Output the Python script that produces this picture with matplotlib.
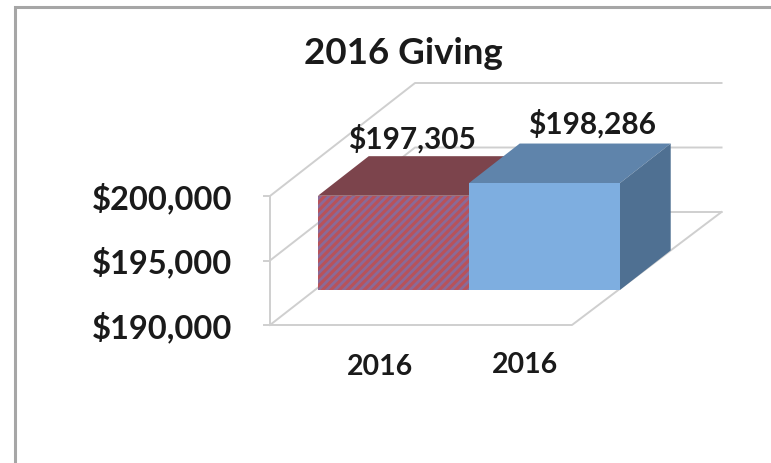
import matplotlib
matplotlib.use("Agg")
import matplotlib.pyplot as plt
from matplotlib.patches import Polygon

plt.rcParams["font.family"] = ["Lato", "DejaVu Sans"]
plt.rcParams["hatch.linewidth"] = 2.0

title = "2016 Giving"
categories = ["2016", "2016"]
values = [197305, 198286]
value_labels = ["$197,305", "$198,286"]
tick_values = [190000, 195000, 200000]
tick_labels = ["$190,000", "$195,000", "$200,000"]

# oblique projection, floor corner is (category 0, 190000, depth 0)
def project(x, v, d=0.0):
    return (270 + 151 * x + 145 * d, 326 - (v - 190000) * 0.0129 - 113 * d)

fig = plt.figure(figsize=(7.71, 4.64), dpi=100)
ax = fig.add_axes([0, 0, 1, 1])
ax.set_xlim(0, 771)
ax.set_ylim(464, 0)
ax.axis("off")

# outer chart border
ax.plot([15, 15, 771], [464, 8, 8], color="#a6a6a6", lw=2.2, solid_joinstyle="miter")

grid = "#cfcfcf"
n = len(categories)
text_col = "#1a1a1a"
# floor and walls
for v, lab in zip(tick_values, tick_labels):
    xs, ys = zip(project(0, v, 0), project(0, v, 1), project(n + 0.03, v, 1))
    ax.plot(xs, ys, color=grid, lw=1.4, zorder=1)
    x0, y0 = project(0, v, 0)
    ax.plot([x0 - 6, x0], [y0, y0], color=grid, lw=1.4, zorder=1)
    ax.text(x0 - 38, y0 + 1, lab, ha="right", va="center",
            fontsize=23.5, fontweight="bold", color=text_col)
xs, ys = zip(project(0, 190000, 0), project(0, 200000, 0))
ax.plot(xs, ys, color=grid, lw=1.4, zorder=1)
xs, ys = zip(project(0, 190000, 0), project(n, 190000, 0), project(n + 0.03, 190000, 1))
ax.plot(xs, ys, color=grid, lw=1.4, zorder=1)

# bars
d0, d1 = 0.31, 0.66
shift = 0.02
styles = [
    dict(front="#b8525a", hatch_col="#8a6a98", top="#7c444c", side="#7c444c"),
    dict(front="#7eaee0", hatch_col=None, top="#5f84ab", side="#4f7092"),
]
for i, v in enumerate(values):
    s = styles[i]
    base = 190000
    x0, x1 = i + shift, i + 1 + shift
    ax.add_patch(Polygon([project(x0, v, d0), project(x1, v, d0), project(x1, v, d1), project(x0, v, d1)],
                         fc=s["top"], ec="none", zorder=3 + i))
    ax.add_patch(Polygon([project(x1, base, d0), project(x1, v, d0), project(x1, v, d1), project(x1, base, d1)],
                         fc=s["side"], ec="none", zorder=3 + i))
    front = [project(x0, base, d0), project(x1, base, d0), project(x1, v, d0), project(x0, v, d0)]
    ax.add_patch(Polygon(front, fc=s["front"], ec="none", zorder=3 + i))
    if s["hatch_col"]:
        ax.add_patch(Polygon(front, fc="none", ec=s["hatch_col"], hatch="////", lw=0, zorder=3 + i))

# labels
ax.text(412, 139, value_labels[0], ha="center", va="center", fontsize=21.5, fontweight="bold", color=text_col, zorder=6)
ax.text(592, 124, value_labels[1], ha="center", va="center", fontsize=21.5, fontweight="bold", color=text_col, zorder=6)
ax.text(380, 367, categories[0], ha="center", va="center", fontsize=20.5, fontweight="bold", color=text_col)
ax.text(525, 365, categories[1], ha="center", va="center", fontsize=20.5, fontweight="bold", color=text_col)
ax.text(403, 54, title, ha="center", va="center", fontsize=26.5, fontweight="bold", color=text_col)

fig.savefig("out.png", dpi=100)
